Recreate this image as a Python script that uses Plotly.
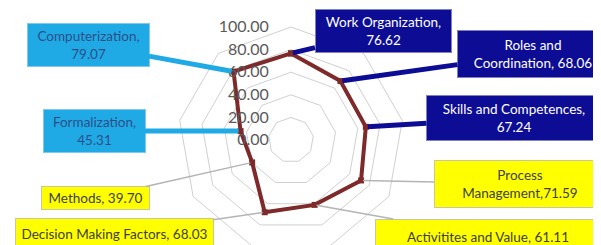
import math
import plotly.graph_objects as go

categories = ["Work Organization", "Roles and Coordination", "Skills and Competences",
              "Process Management", "Activitites and Value", "Decision Making Factors",
              "Methods", "Formalization", "Computerization"]
values = [76.62, 68.06, 67.24, 71.59, 61.11, 68.03, 39.70, 45.31, 79.07]
label_text = ["Work Organization,<br>76.62", "Roles and<br>Coordination, 68.06",
              "Skills and Competences,<br>67.24", "Process<br>Management,71.59",
              "Activitites and Value, 61.11", "Decision Making Factors, 68.03",
              "Methods, 39.70", "Formalization,<br>45.31", "Computerization,<br>79.07"]
tick_vals = [0, 20, 40, 60, 80, 100]
tick_text = ["0.00", "20.00", "40.00", "60.00", "80.00", "100.00"]

W, H = 601, 245
dom_x = [170 / W, 396 / W]
dom_y = [1 - 245 / H, 1 - 19 / H]

LB, NAVY, YEL = "#1FAAE6", "#0C0C94", "#FFFF00"
styles = [
    (NAVY, "white", "#8080C0", NAVY, 5, (375, 23), 135, 42),
    (NAVY, "white", "#8080C0", NAVY, 5, (525, 46), 150, 46),
    (NAVY, "white", "#8080C0", NAVY, 5, (506, 110), 174, 44),
    (YEL, "#404040", "#C8C8A0", "#B4B4B4", 1.5, (512, 176), 170, 46),
    (YEL, "#404040", "#C8C8A0", "#B4B4B4", 1.5, (480, 228), 224, 33),
    (YEL, "#404040", "#C8C8A0", "#B4B4B4", 1.5, (106, 226), 197, 30),
    (YEL, "#404040", "#C8C8A0", "#B4B4B4", 1.5, (87, 190), 107, 22),
    (LB, "#2E4F86", "#7FC8EE", LB, 5, (86, 123), 101, 42),
    (LB, "#2E4F86", "#7FC8EE", LB, 5, (80, 37), 121, 42),
]

fig = go.Figure()
fig.add_trace(go.Scatterpolar(
    r=values + values[:1], theta=categories + categories[:1],
    mode="lines+markers",
    line=dict(color="#7E2A2A", width=4),
    marker=dict(color="#7E2A2A", size=6, symbol="square"),
    showlegend=False,
))

cx = (dom_x[0] + dom_x[1]) / 2 * W
cy = (1 - (dom_y[0] + dom_y[1]) / 2) * H
R = min((dom_x[1] - dom_x[0]) * W, (dom_y[1] - dom_y[0]) * H) / 2

n = len(categories)
for i, (v, txt) in enumerate(zip(values, label_text)):
    bg, fc, bc, ac, aw, (bx, by), bw, bh = styles[i]
    ang = 2 * math.pi * i / n
    px = cx + R * v / 100 * math.sin(ang)
    py = cy - R * v / 100 * math.cos(ang)
    fig.add_annotation(
        x=px / W, y=1 - py / H, xref="paper", yref="paper",
        ax=bx - px, ay=by - py, axref="pixel", ayref="pixel",
        text=txt, showarrow=True, arrowhead=0, arrowwidth=aw, arrowcolor=ac,
        standoff=2,
        bgcolor=bg, bordercolor=bc, borderwidth=1, borderpad=0,
        width=bw, height=bh, align="center", valign="middle",
        font=dict(family="Lato", size=13.5, color=fc),
    )

fig.update_layout(
    width=W, height=H, margin=dict(l=0, r=0, t=0, b=0),
    paper_bgcolor="white", plot_bgcolor="white",
    polar=dict(
        domain=dict(x=dom_x, y=dom_y),
        gridshape="linear", bgcolor="white",
        radialaxis=dict(range=[0, 100], tickvals=tick_vals, ticktext=tick_text,
                        angle=90, side="counterclockwise", tickangle=90,
                        showline=False, gridcolor="#D0D0D0", gridwidth=1,
                        ticks="outside", ticklen=16, tickcolor="rgba(0,0,0,0)",
                        tickfont=dict(family="Lato", size=16, color="#5A5A5A")),
        angularaxis=dict(rotation=90, direction="clockwise", showticklabels=False,
                         ticks="", showgrid=False, showline=True,
                         linecolor="#D0D0D0", linewidth=1),
    ),
)

fig.write_html("out.html")
